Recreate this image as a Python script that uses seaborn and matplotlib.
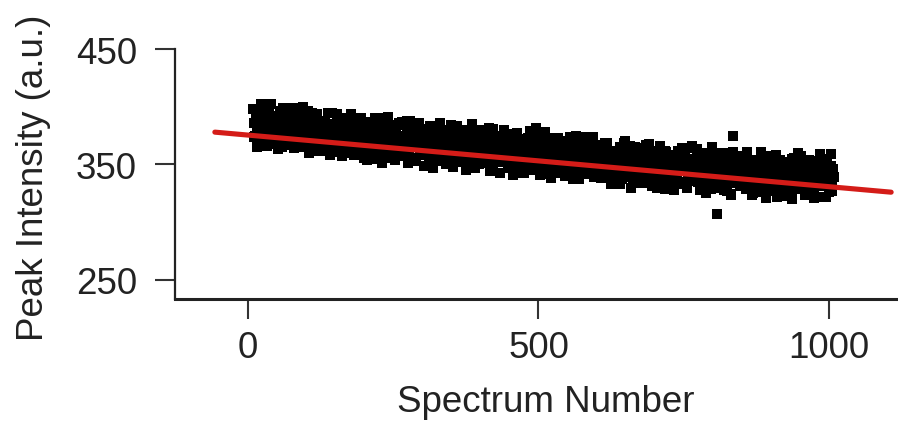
import numpy as np
import pandas as pd
import matplotlib
matplotlib.use("Agg")
import matplotlib.pyplot as plt
import seaborn as sns

# ---- data ----
# even-numbered spectra
spectrum_a = np.arange(10, 1010, 2)
intensity_a = [
    386,375,395,381,389,369,384,392,378,382,
    376,386,371,397,382,379,389,373,384,392,
    390,381,375,387,365,393,378,384,395,376,
    379,390,382,371,385,399,376,369,387,378,
    391,376,371,380,387,374,394,379,365,383,
    369,383,380,374,394,370,378,388,375,371,
    377,363,382,385,374,380,369,395,365,378,
    374,370,384,376,361,381,373,387,367,378,
    384,376,365,381,371,374,389,363,378,368,
    367,386,375,369,384,356,378,366,372,381,
    369,378,360,367,390,376,362,373,381,370,
    374,356,370,385,365,378,371,362,367,382,
    363,367,380,370,362,386,366,372,375,361,
    371,358,388,362,373,367,378,375,356,370,
    354,369,377,363,367,371,360,380,366,374,
    364,374,358,369,377,361,371,356,382,367,
    378,363,369,380,361,375,366,360,372,350,
    384,361,354,372,363,364,375,367,356,370,
    359,379,364,350,368,376,361,356,365,372,
    356,364,374,361,357,355,369,366,360,380,
    367,356,382,352,365,364,350,369,372,361,
    368,360,374,354,365,361,357,371,363,348,
    361,376,350,365,355,371,363,352,368,358,
    343,365,353,359,368,354,373,362,356,371,
    363,349,360,382,357,356,365,347,354,377,
    365,358,349,354,369,361,343,357,372,352,
    373,353,359,362,348,350,354,367,357,349,
    354,365,362,343,357,358,345,375,349,360,
    352,363,343,357,349,369,354,346,360,356,
    360,350,365,339,354,357,347,363,352,344,
    344,353,359,347,369,341,356,350,339,358,
    353,342,350,361,347,333,356,363,345,354,
    339,354,359,350,343,356,336,351,365,347,
    359,345,348,354,334,358,350,340,353,357,
    348,362,343,340,351,345,356,330,360,347,
    349,353,339,347,362,342,350,336,356,345,
    338,346,357,341,351,348,333,359,344,354,
    353,334,345,351,336,364,342,354,348,339,
    349,340,358,351,328,342,356,345,337,348,
    342,360,346,331,351,338,345,354,349,307,
    351,347,334,344,352,328,348,342,339,353,
    341,354,375,350,339,345,334,337,356,342,
    356,341,333,347,343,339,350,330,344,336,
    344,334,350,339,331,347,337,352,326,341,
    329,344,338,327,346,332,341,347,335,357,
    322,345,352,334,343,342,331,339,350,336,
    346,326,341,355,337,329,344,349,340,333,
    348,340,330,343,347,349,335,338,344,324,
    336,347,321,351,338,339,353,334,331,342,
    343,332,352,338,346,326,341,349,335,339,
]
# odd-numbered spectra
spectrum_b = np.arange(9, 1009, 2)
intensity_b = [
    398,374,386,365,393,383,378,402,370,389,
    379,395,366,390,375,402,372,384,391,368,
    391,363,387,396,379,370,399,374,383,380,
    367,388,399,375,384,364,392,385,372,395,
    392,379,365,400,369,386,376,396,360,383,
    371,395,378,365,392,369,386,362,388,375,
    380,362,388,373,395,368,358,385,381,365,
    381,362,394,370,375,385,357,378,366,390,
    360,383,376,364,394,367,382,358,387,371,
    371,374,365,390,361,370,387,378,354,382,
    386,363,376,383,355,375,366,390,379,358,
    374,351,387,367,377,360,391,356,370,383,
    367,380,354,378,361,384,357,370,387,363,
    358,374,378,351,361,388,366,381,355,373,
    353,377,365,386,358,368,373,349,381,362,
    370,354,383,359,374,347,377,365,358,381,
    358,386,362,353,370,379,350,375,366,369,
    380,359,348,372,363,383,355,362,375,352,
    353,366,380,345,376,359,369,349,385,362,
    371,347,364,377,350,373,356,380,354,367,
    359,377,351,366,344,371,381,354,358,374,
    356,375,343,367,362,352,380,359,371,347,
    375,352,359,371,341,368,353,377,348,364,
    362,359,368,343,372,363,346,355,379,351,
    345,368,355,348,376,356,365,341,352,373,
    355,378,342,362,352,369,338,373,359,346,
    360,347,373,349,366,343,370,357,340,364,
    367,351,347,374,364,337,359,344,370,352,
    337,365,355,350,374,342,361,370,346,358,
    362,347,374,344,356,363,340,351,367,338,
    366,349,340,369,344,353,350,361,333,357,
    345,354,334,362,355,342,365,337,358,369,
    370,339,356,346,366,330,353,362,349,335,
    337,364,341,358,334,360,347,343,367,350,
    346,368,341,331,358,354,338,353,335,361,
    366,338,348,353,329,361,342,333,357,345,
    340,355,328,358,346,339,362,351,335,364,
    333,350,359,330,355,346,349,338,366,342,
    352,343,363,335,342,355,332,360,339,328,
    325,356,339,349,329,365,342,333,346,360,
    357,330,353,336,360,334,347,351,327,344,
    346,324,351,361,334,338,354,339,357,331,
    345,333,357,348,329,361,337,342,352,324,
    325,354,338,327,350,343,331,361,334,349,
    345,321,349,338,341,332,357,328,337,354,
    358,347,326,354,331,344,351,323,343,334,
    325,339,352,343,320,356,336,346,329,360,
    340,357,333,337,350,324,348,331,354,327,
    352,326,344,329,345,349,322,332,359,337,
    355,331,343,322,350,340,335,359,327,346,
]
fit_x = [-57, 1107]      # ends of the red fitted line
fit_y = [378, 326]

x_ticks = [0, 500, 1000]
y_ticks = [250, 350, 450]

df = pd.DataFrame({
    "Spectrum Number": np.concatenate([spectrum_a, spectrum_b]),
    "Peak Intensity (a.u.)": intensity_a + intensity_b,
})
fit_df = pd.DataFrame({"x": fit_x, "y": fit_y})

sns.set_theme(style="ticks")
plt.rcParams["font.family"] = ["Liberation Sans", "DejaVu Sans"]

fig = plt.figure(figsize=(8.98, 4.27), dpi=100)
ax = fig.add_axes([175 / 898, 1 - 300 / 427, 723 / 898, 250 / 427])

sns.scatterplot(data=df, x="Spectrum Number", y="Peak Intensity (a.u.)", ax=ax,
                marker="s", color="black", edgecolor="none", s=52, linewidth=0, zorder=2)
sns.lineplot(data=fit_df, x="x", y="y", ax=ax, color="#d41c18", linewidth=3.7, zorder=3)

ax.set_xlim(-125.6, 1118.8)
ax.set_ylim(233.5, 450)
ax.set_xticks(x_ticks)
ax.set_yticks(y_ticks)
ax.set_xticklabels([str(v) for v in x_ticks])
ax.set_yticklabels([str(v) for v in y_ticks])

for s in ["top", "right"]:
    ax.spines[s].set_visible(False)
ax.spines["left"].set_linewidth(1.6)
ax.spines["bottom"].set_linewidth(2.2)
ax.spines["left"].set_color("#222222")
ax.spines["bottom"].set_color("#222222")

ax.tick_params(axis="both", direction="out", length=14.5, width=1.5, color="#333333",
               labelsize=26.5, labelcolor="#222222")
ax.tick_params(axis="x", pad=8)
ax.tick_params(axis="y", pad=13)

ax.set_xlabel("Spectrum Number", fontsize=26.5, color="#222222")
ax.set_ylabel("Peak Intensity (a.u.)", fontsize=26.5, color="#222222")
ax.xaxis.set_label_coords(0.513, -0.34)
ax.yaxis.set_label_coords(-0.172, 0.49)

fig.savefig("out.png", dpi=100, facecolor="white")
